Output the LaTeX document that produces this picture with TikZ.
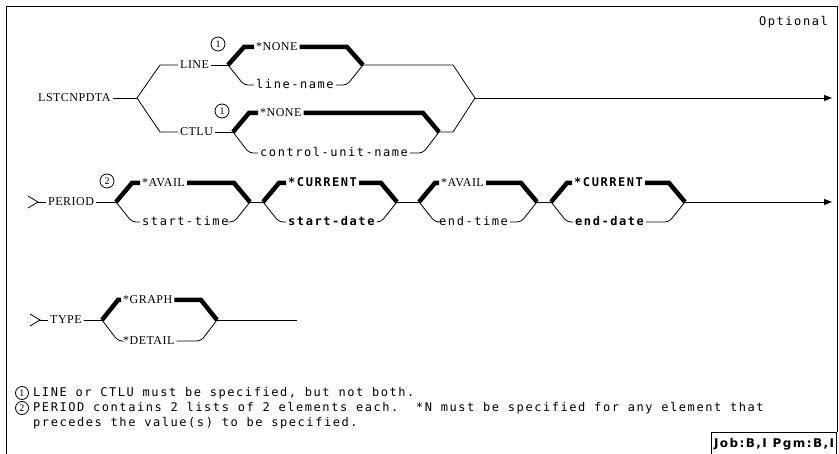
\documentclass[tikz,border=0pt]{standalone}
\usepackage{fontspec}
\usetikzlibrary{arrows.meta}
\newfontfamily\kwfont[LetterSpace=4]{Liberation Serif}
\newfontfamily\varfont[LetterSpace=13]{DejaVu Sans Mono}
\newfontfamily\jobfont[LetterSpace=12]{DejaVu Sans}
\newcommand{\kwsize}{\fontsize{12}{14}\selectfont}

\tikzset{
  kw/.style={font=\kwfont\kwsize, anchor=west, inner xsep=2pt, inner ysep=0pt, text height=8pt, text depth=0pt},
  var/.style={kw, font=\varfont\kwsize},
  dflt/.style={kw, font=\varfont\bfseries\kwsize},
  thinline/.style={line width=0.8pt},
  heavyline/.style={line width=4.5pt},
  lowbranch/.style={thinline, rounded corners=4pt},
  endarrow/.style={thinline, -{Triangle[length=8pt,width=6pt]}},
  num/.style={circle, draw, line width=0.8pt, inner sep=0pt, minimum size=14pt, font=\kwfont\fontsize{10}{10}\selectfont},
  note/.style={font=\varfont\kwsize, anchor=west, inner sep=0pt, text height=8pt, text depth=0pt}
}

\begin{document}
\begin{tikzpicture}[x=1pt,y=-1pt]
    \useasboundingbox (0,0) rectangle (839,454);
    % frame
    \draw[line width=0.9pt] (6,454) -- (6,6) -- (837,6) -- (837,432);
    \node[note, anchor=east] (opt) at (828,22) {Optional};

    % first line: LSTCNPDTA
    \node[kw] (lst) at (36,98) {LSTCNPDTA};
    \coordinate (j0) at (137,98);
    \node[kw] (line) at (178,65) {LINE};
    \node[kw] (ctlu) at (178,132) {CTLU};
    \draw[thinline] (lst) -- (j0);
    \draw[thinline] (line.west) -- (160,65) -- (j0) -- (160,132) -- (ctlu.west);

    % LINE choice
    \coordinate (jl) at (228,65);
    \coordinate (kl) at (363,65);
    \node[num] (n1a) at (218,44) {1};
    \node[kw] (nonel) at (254,47) {*NONE};
    \node[var] (lname) at (254,85) {line-name};
    \draw[thinline] (line) -- (jl);
    \draw[heavyline] (jl) -- (244,47) -- (nonel.west);
    \draw[heavyline] (nonel.east) -- (347,47) -- (kl);
    \draw[lowbranch] (jl) -- (244,85) -- (lname.west);
    \draw[lowbranch] (lname.east) -- (347,85) -- (kl);

    % CTLU choice
    \coordinate (jc) at (233,132);
    \coordinate (kc) at (439,132);
    \node[num] (n1b) at (222,111) {1};
    \node[kw] (nonec) at (258,113) {*NONE};
    \node[var] (cuname) at (258,153) {control-unit-name};
    \draw[thinline] (ctlu) -- (jc);
    \draw[heavyline] (jc) -- (249,113) -- (nonec.west);
    \draw[heavyline] (nonec.east) -- (423,113) -- (kc);
    \draw[lowbranch] (jc) -- (249,153) -- (cuname.west);
    \draw[lowbranch] (cuname.east) -- (423,153) -- (kc);

    \coordinate (k0) at (475,98);
    \coordinate (e1) at (832,98);
    \draw[thinline] (kl) -- (453,65) -- (k0) -- (453,132) -- (kc);
    \draw[endarrow] (k0) -- (e1);

    % second line: PERIOD
    \coordinate (s2) at (38,202);
    \node[kw] (period) at (46,202) {PERIOD};
    \coordinate (j1) at (116,202);
    \draw[thinline] (28,196) -- (s2) -- (28,208);
    \draw[thinline] (s2) -- (period.west);
    \draw[thinline] (period) -- (j1);
    \node[num] (n2) at (107,181) {2};

    \coordinate (k1) at (250,202);
    \node[kw] (avail1) at (140,183) {*AVAIL};
    \node[var] (stime) at (140,222) {start-time};
    \draw[heavyline] (j1) -- (132,183) -- (avail1.west);
    \draw[heavyline] (avail1.east) -- (234,183) -- (k1);
    \draw[lowbranch] (j1) -- (132,222) -- (stime.west);
    \draw[lowbranch] (stime.east) -- (234,222) -- (k1);

    \coordinate (j2) at (263,202);
    \coordinate (k2) at (397,202);
    \node[dflt] (cur1) at (286,183) {*CURRENT};
    \node[dflt] (sdate) at (286,222) {start-date};
    \draw[thinline] (k1) -- (j2);
    \draw[heavyline] (j2) -- (279,183) -- (cur1.west);
    \draw[heavyline] (cur1.east) -- (381,183) -- (k2);
    \draw[lowbranch] (j2) -- (279,222) -- (sdate.west);
    \draw[lowbranch] (sdate.east) -- (381,222) -- (k2);

    \coordinate (j3) at (419,202);
    \coordinate (k3) at (537,202);
    \node[kw] (avail2) at (439,183) {*AVAIL};
    \node[var] (etime) at (437,222) {end-time};
    \draw[thinline] (k2) -- (j3);
    \draw[heavyline] (j3) -- (435,183) -- (avail2.west);
    \draw[heavyline] (avail2.east) -- (521,183) -- (k3);
    \draw[lowbranch] (j3) -- (435,222) -- (etime.west);
    \draw[lowbranch] (etime.east) -- (521,222) -- (k3);

    \coordinate (j4) at (551,202);
    \coordinate (k4) at (685,202);
    \coordinate (e2) at (832,202);
    \node[dflt] (cur2) at (572,183) {*CURRENT};
    \node[dflt] (edate) at (573,222) {end-date};
    \draw[thinline] (k3) -- (j4);
    \draw[heavyline] (j4) -- (567,183) -- (cur2.west);
    \draw[heavyline] (cur2.east) -- (669,183) -- (k4);
    \draw[lowbranch] (j4) -- (567,222) -- (edate.west);
    \draw[lowbranch] (edate.east) -- (669,222) -- (k4);
    \draw[endarrow] (k4) -- (e2);

    % third line: TYPE
    \coordinate (s3) at (40,320);
    \node[kw] (type) at (48,320) {TYPE};
    \coordinate (j5) at (102,320);
    \coordinate (k5) at (217,320);
    \coordinate (e3) at (297,320);
    \draw[thinline] (30,314) -- (s3) -- (30,326);
    \draw[thinline] (s3) -- (type.west);
    \draw[thinline] (type) -- (j5);
    \node[kw] (graph) at (121,300) {*GRAPH};
    \node[kw] (detail) at (121,341) {*DETAIL};
    \draw[heavyline] (j5) -- (118,300) -- (graph.west);
    \draw[heavyline] (graph.east) -- (201,300) -- (k5);
    \draw[lowbranch] (j5) -- (118,341) -- (detail.west);
    \draw[lowbranch] (detail.east) -- (201,341) -- (k5);
    \draw[thinline] (k5) -- (e3);

    % notes
    \node[num, minimum size=13pt] (f1) at (22,393) {1};
    \node[note] (t1) at (33,393) {LINE or CTLU must be specified, but not both.};
    \node[num, minimum size=13pt] (f2) at (22,408) {2};
    \node[note] (t2) at (33,408) {PERIOD contains 2 lists of 2 elements each.\ \ *N must be specified for any element that};
    \node[note] (t3) at (33,423) {precedes the value(s) to be specified.};

    \node[draw, line width=0.9pt, font=\jobfont\bfseries\kwsize, anchor=north east,
          minimum width=125pt, minimum height=24pt, inner sep=0pt] (job) at (837,432) {Job:B,I Pgm:B,I};
\end{tikzpicture}
\end{document}
